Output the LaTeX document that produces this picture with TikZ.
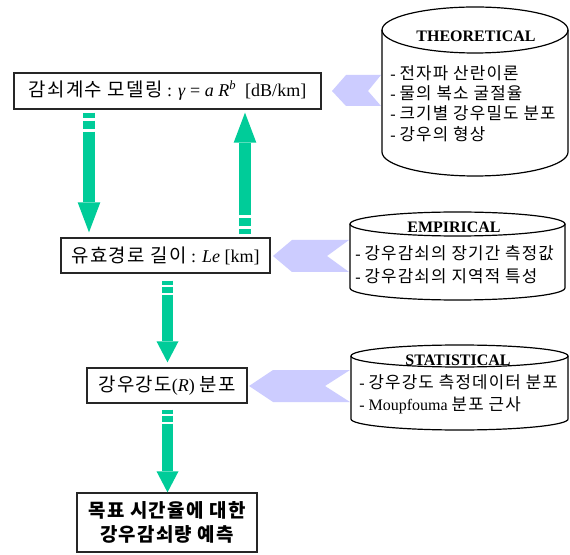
\documentclass[tikz,border=0pt]{standalone}
\usepackage{fontspec}
\setmainfont{Liberation Serif}
\newfontfamily\kr[Scale=1.05,LetterSpace=7]{Noto Sans CJK KR}
\usetikzlibrary{arrows.meta}
\definecolor{agreen}{RGB}{0,204,153}
\definecolor{chev}{RGB}{204,204,255}
\newcommand\K[1]{{\kr #1}}
\tikzset{
  box/.style={draw=black!85, line width=1pt, fill=white, inner sep=0pt, align=center,
    font=\fontsize{13.5}{17}\selectfont},
  cyl/.style={draw=black, line width=0.9pt},
  chevron/.style={fill=chev, draw=none},
  head/.style={font=\fontsize{12}{14}\selectfont\bfseries},
  item/.style={anchor=west, inner sep=0pt, font=\fontsize{12}{14}\selectfont},
  bigarrow/.style={draw=agreen, line width=9pt,
    dash pattern=on 3.75pt off 2.25pt on 6pt off 2.25pt on 400pt,
    -{Triangle[line width=0pt, length=22.5pt, width=17pt]}},
  smallarrow/.style={draw=agreen, line width=8.25pt,
    dash pattern=on 3pt off 1.5pt on 4.5pt off 1.5pt on 400pt,
    -{Triangle[line width=0pt, length=15.75pt, width=16.5pt]}}
}
\begin{document}
\begin{tikzpicture}[x=0.75pt,y=-0.75pt]
\useasboundingbox (0,0) rectangle (570,555);
\fill[white] (0,0) rectangle (570,555);

% boxes
\node[box, minimum width=230.25pt, minimum height=27pt] (m1) at (167.5,91)
  {\K{감쇠계수 모델링} : \textit{γ} = \textit{a R}\textsuperscript{\textit{b}}\ \ [dB/km]};
\node[box, minimum width=156.75pt, minimum height=26.25pt] (m2) at (165.5,255.5)
  {\K{유효경로 길이} : \textit{Le} [km]};
\node[box, minimum width=120pt, minimum height=26.25pt] (m3) at (167,385.5)
  {\K{강우강도}(\textit{R}) \K{분포}};
\node[box, minimum width=135pt, minimum height=44.25pt, font=\fontsize{13.5}{18}\selectfont\kr\bfseries] (m4) at (167,522.5)
  {목표 시간율에 대한\\강우감쇠량 예측};

% arrow x positions
\coordinate (xa) at (89,0);
\coordinate (xb) at (245,0);
\coordinate (xc) at (167.5,0);

\draw[bigarrow, shorten <=2.25pt, shorten >=3.75pt] (m1.south -| xa) -- (m2.north -| xa);
\draw[bigarrow, shorten <=2.25pt, shorten >=2.25pt] (m2.north -| xb) -- (m1.south -| xb);
\draw[smallarrow, shorten <=5.25pt, shorten >=3.75pt] (m2.south -| xc) -- (m3.north -| xc);
\draw[smallarrow, shorten <=4.5pt] (m3.south -| xc) -- (m4.north -| xc);

% chevrons
\fill[chevron] (332,91) -- (346,75) -- (381,75) -- (368,91) -- (381,106) -- (346,106) -- cycle;
\fill[chevron] (273,256) -- (292,240) -- (349,240) -- (327,256) -- (349,272) -- (292,272) -- cycle;
\fill[chevron] (249,386) -- (273,370) -- (350,370) -- (325,386) -- (350,402) -- (273,402) -- cycle;

% THEORETICAL cylinder
\draw[cyl, fill=white] (382,30) -- (382,152) arc[start angle=180, end angle=360, x radius=69.75pt, y radius=18pt] -- (568,30);
\draw[cyl] (475,30) ellipse [x radius=69.75pt, y radius=17.25pt];
\node[head] (th) at (476,36) {THEORETICAL};
\node[item] (t1) at (390,73) {- \K{전자파 산란이론}};
\node[item] (t2) at (390,93) {- \K{물의 복소 굴절율}};
\node[item] (t3) at (390,113) {- \K{크기별 강우밀도 분포}};
\node[item] (t4) at (390,134) {- \K{강우의 형상}};

% EMPIRICAL cylinder
\draw[cyl, fill=white] (350,224) -- (350,288) arc[start angle=180, end angle=360, x radius=80.6pt, y radius=9pt] -- (565,224);
\draw[cyl] (457.5,224) ellipse [x radius=80.6pt, y radius=9pt];
\node[head] (eh) at (454,227) {EMPIRICAL};
\node[item] (e1) at (355,253) {- \K{강우감쇠의 장기간 측정값}};
\node[item] (e2) at (355,276) {- \K{강우감쇠의 지역적 특성}};

% STATISTICAL cylinder
\draw[cyl, fill=white] (351,356) -- (351,419) arc[start angle=180, end angle=360, x radius=81.4pt, y radius=8.25pt] -- (568,356);
\draw[cyl] (459.5,356) ellipse [x radius=81.4pt, y radius=8.25pt];
\node[head] (sh) at (458,360) {STATISTICAL};
\node[item] (s1) at (359,382) {- \K{강우강도 측정데이터 분포}};
\node[item] (s2) at (359,405) {- Moupfouma \K{분포 근사}};
\end{tikzpicture}
\end{document}
